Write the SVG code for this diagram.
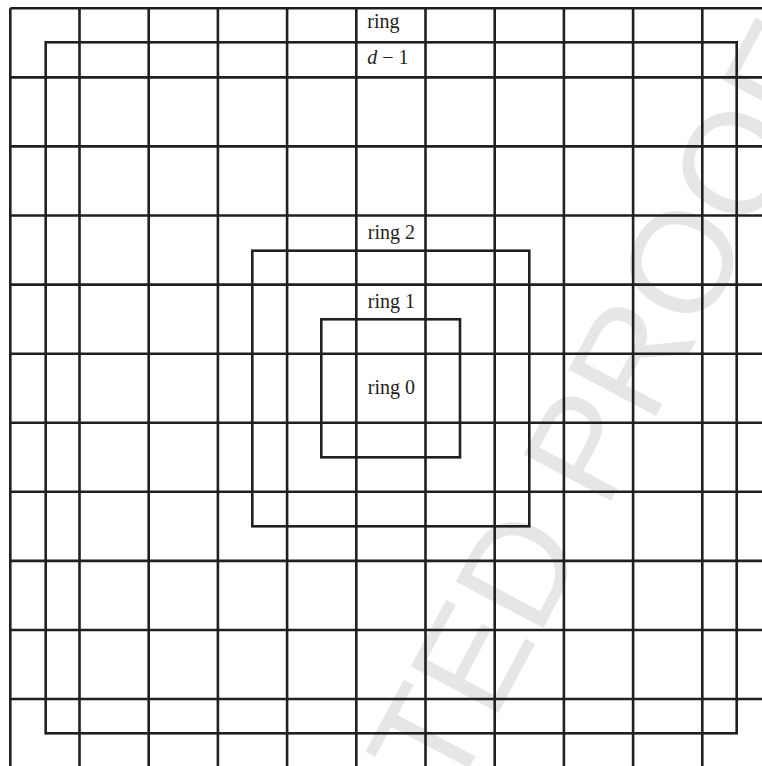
<svg xmlns="http://www.w3.org/2000/svg" width="762" height="766" viewBox="0 0 762 766">
<style>
.ln{fill:none;stroke:#231f20;stroke-width:2.6;stroke-linecap:butt;stroke-linejoin:miter}
.lb{font-family:"Liberation Serif","Times New Roman",serif;font-size:20px;fill:#231f20}
.wm{font-family:"Liberation Sans",Arial,sans-serif;font-size:144px;fill:#e6e6e6}
</style>
<rect width="762" height="766" fill="#ffffff"/>
<text class="wm" transform="translate(451.4,800.9) rotate(-62)">TED PROOF</text>
<g id="grid" class="ln">
<path d="M10.3,8.3V766M79.5,8.3V766M148.7,8.3V766M217.9,8.3V766M287.1,8.3V766M356.3,8.3V766M425.5,8.3V766M494.7,8.3V766M563.9,8.3V766M633.1,8.3V766M702.3,8.3V766"/>
<path d="M10.3,8.3H762M10.3,77.4H762M10.3,146.4H762M10.3,215.5H762M10.3,284.6H762M10.3,353.7H762M10.3,422.7H762M10.3,491.8H762M10.3,560.9H762M10.3,630H762M10.3,699H762"/>
</g>
<g id="ring-outer">
<rect class="ln" x="45.7" y="42.3" width="691" height="691"/>
<text class="lb" x="367.3" y="28.3">ring</text>
<text class="lb" x="367.3" y="64"><tspan font-style="italic">d</tspan> − 1</text>
</g>
<g id="ring-2">
<rect class="ln" x="252.3" y="250.7" width="277" height="275.6"/>
<text class="lb" x="367.8" y="239">ring 2</text>
</g>
<g id="ring-1">
<rect class="ln" x="321.3" y="319.3" width="138.7" height="138"/>
<text class="lb" x="367.8" y="308.3">ring 1</text>
</g>
<g id="ring-0">
<text class="lb" x="367.8" y="394">ring 0</text>
</g>
</svg>
